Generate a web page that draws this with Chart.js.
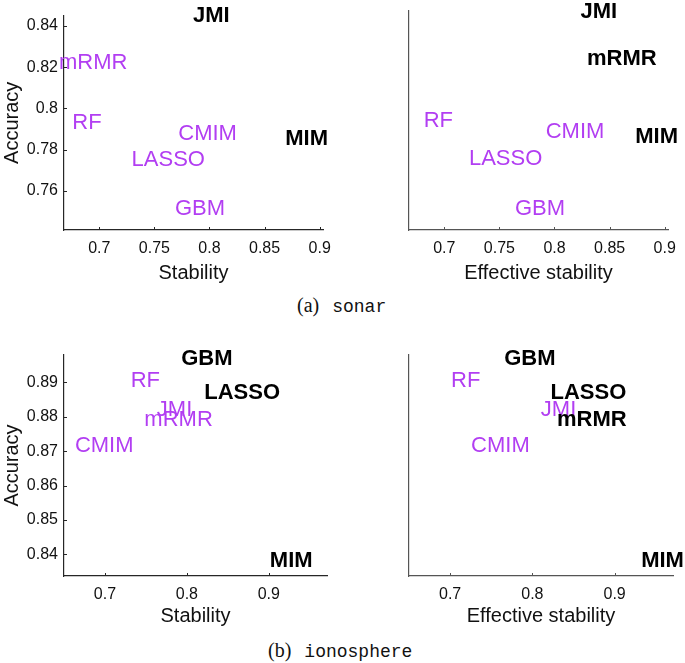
<!DOCTYPE html>
<html>
<head>
<meta charset="utf-8">
<script src="https://cdn.jsdelivr.net/npm/chart.js@4/dist/chart.umd.min.js"></script>
<style>
    body { margin: 0; background: #fff; }
    #page { position: relative; width: 685px; height: 663px; overflow: hidden; }
    .panel { position: absolute; }
    .caption { position: absolute; color: #111; white-space: nowrap; line-height: 22px; }
    .lbl { font-family: "Liberation Serif", "DejaVu Serif", serif; font-size: 20px; }
    .ds { font-family: "Liberation Mono", "DejaVu Sans Mono", monospace; font-size: 18px; margin-left: 13px; }
</style>
</head>
<body>
<div id="page">
    <div class="panel" style="left:0;top:0;"><canvas id="c-sonar-stab" width="340" height="290"></canvas></div>
    <div class="panel" style="left:340px;top:0;"><canvas id="c-sonar-eff" width="345" height="290"></canvas></div>
    <div class="panel" style="left:0;top:330px;"><canvas id="c-iono-stab" width="340" height="300"></canvas></div>
    <div class="panel" style="left:340px;top:330px;"><canvas id="c-iono-eff" width="345" height="300"></canvas></div>
    <div class="caption" style="left:297px;top:294px;"><span class="lbl">(a)</span><span class="ds">sonar</span></div>
    <div class="caption" style="left:268px;top:639px;"><span class="lbl">(b)</span><span class="ds">ionosphere</span></div>
</div>

<script>
// ==========================================
// 1. DATOS
// ==========================================

// sonar
const sonarMethods = ['JMI', 'mRMR', 'RF', 'CMIM', 'MIM', 'LASSO', 'GBM'];
const sonarAccuracy = [0.8456, 0.8229, 0.7937, 0.7884, 0.7861, 0.7757, 0.7519];
const sonarStability = [0.785, 0.6635, 0.6755, 0.7717, 0.8687, 0.7293, 0.7687];
const sonarEffStability = [0.8236, 0.8295, 0.6813, 0.792, 0.8733, 0.7224, 0.7641];
const sonarTopStab = ['JMI', 'MIM'];
const sonarTopEff = ['JMI', 'mRMR', 'MIM'];
const sonarXTicks = [0.7, 0.75, 0.8, 0.85, 0.9];
const sonarYTicks = [0.76, 0.78, 0.8, 0.82, 0.84];
const sonarXRange = [0.668, 0.903];
const sonarYRange = [0.741, 0.845];

// ionosphere
const ionoMethods = ['GBM', 'RF', 'LASSO', 'JMI', 'mRMR', 'CMIM', 'MIM'];
const ionoAccuracy = [0.8973, 0.8909, 0.8875, 0.8826, 0.8795, 0.872, 0.8385];
const ionoStability = [0.793, 0.7314, 0.8212, 0.7633, 0.7481, 0.6633, 0.9012];
const ionoEffStability = [0.7658, 0.7012, 0.822, 0.8103, 0.830, 0.7255, 0.9323];
const ionoTopStab = ['GBM', 'LASSO', 'MIM'];
const ionoTopEff = ['GBM', 'LASSO', 'mRMR', 'MIM'];
const ionoXTicks = [0.7, 0.8, 0.9];
const ionoYTicks = [0.84, 0.85, 0.86, 0.87, 0.88, 0.89];
const ionoXRange = [0.65, 0.971];
const ionoYRange = [0.8337, 0.898];

// ==========================================
// 2. ESTILOS
// ==========================================

const FONT = '"Liberation Sans", Arial, Helvetica, sans-serif';
const PURPLE = '#b23ef2';
const INK = '#000000';

// dibuja el nombre de cada método en su punto (alineado a la izquierda, centrado en vertical)
const textLabelsPlugin = {
    id: 'textLabels',
    afterDatasetsDraw(chart) {
        const ctx = chart.ctx;
        const ds = chart.data.datasets[0];
        const meta = chart.getDatasetMeta(0);
        const size = 22;
        ctx.save();
        meta.data.forEach((pt, i) => {
            const name = ds.names[i];
            const bold = ds.top.includes(name);
            ctx.font = (bold ? 'bold ' : '') + size + 'px ' + FONT;
            ctx.fillStyle = bold ? INK : PURPLE;
            ctx.textAlign = 'left';
            ctx.textBaseline = 'alphabetic';
            ctx.fillText(name, pt.x, pt.y + size * 0.358);
        });
        ctx.restore();
    }
};

// marcas de los ticks hacia dentro (estilo MATLAB)
const inwardTicksPlugin = {
    id: 'inwardTicks',
    afterDraw(chart, args, opts) {
        const ctx = chart.ctx;
        const area = chart.chartArea;
        const xs = chart.scales.x, ys = chart.scales.y;
        ctx.save();
        ctx.strokeStyle = opts.color || '#262626';
        ctx.lineWidth = 1;
        ctx.beginPath();
        xs.ticks.forEach(t => {
            const px = Math.round(xs.getPixelForValue(t.value)) + 0.5;
            ctx.moveTo(px, area.bottom);
            ctx.lineTo(px, area.bottom - 3);
        });
        if (opts.yTicks) {
            ys.ticks.forEach(t => {
                const py = Math.round(ys.getPixelForValue(t.value)) + 0.5;
                ctx.moveTo(area.left, py);
                ctx.lineTo(area.left + 3, py);
            });
        }
        ctx.stroke();
        ctx.restore();
    }
};

// ==========================================
// 3. GRÁFICOS
// ==========================================

function renderPanel(canvasId, p) {
    const ctx = document.getElementById(canvasId);
    return new Chart(ctx, {
        type: 'scatter',
        data: {
            datasets: [{
                data: p.x.map((v, i) => ({ x: v, y: p.y[i] })),
                names: p.names,
                top: p.top,
                pointRadius: 0,
                pointHoverRadius: 0
            }]
        },
        options: {
            responsive: false,
            animation: false,
            events: [],
            layout: { padding: { top: p.pad.top, right: p.pad.right, left: 0, bottom: 0 } },
            plugins: {
                legend: { display: false },
                tooltip: { enabled: false },
                inwardTicks: { color: p.axisColor, yTicks: p.showY }
            },
            scales: {
                x: {
                    type: 'linear',
                    min: p.xRange[0],
                    max: p.xRange[1],
                    afterBuildTicks: s => { s.ticks = p.xTicks.map(v => ({ value: v })); },
                    afterFit: s => { s.height = p.xHeight; },
                    grid: { display: true, drawOnChartArea: false, drawTicks: false },
                    border: { display: true, color: p.axisColor, width: 1.2 },
                    ticks: {
                        padding: 9,
                        color: '#111',
                        font: { family: FONT, size: 16 },
                        callback: v => String(+v.toFixed(2))
                    },
                    title: {
                        display: true,
                        text: p.xTitle,
                        color: '#111',
                        font: { family: FONT, size: 20 },
                        padding: { top: 0, bottom: p.xTitlePad }
                    }
                },
                y: {
                    type: 'linear',
                    min: p.yRange[0],
                    max: p.yRange[1],
                    afterBuildTicks: s => { s.ticks = p.yTicks.map(v => ({ value: v })); },
                    afterFit: s => { s.width = p.yWidth; },
                    grid: { display: true, drawOnChartArea: false, drawTicks: false },
                    border: { display: true, color: p.axisColor, width: 1.2 },
                    ticks: {
                        display: p.showY,
                        padding: 6,
                        color: '#111',
                        font: { family: FONT, size: 16 },
                        callback: v => String(+v.toFixed(2))
                    },
                    title: {
                        display: p.showY,
                        text: 'Accuracy',
                        color: '#111',
                        font: { family: FONT, size: 20 },
                        padding: { top: 0, bottom: 0 }
                    }
                }
            }
        },
        plugins: [textLabelsPlugin, inwardTicksPlugin]
    });
}

document.addEventListener('DOMContentLoaded', function() {
    renderPanel('c-sonar-stab', {
        names: sonarMethods, x: sonarStability, y: sonarAccuracy, top: sonarTopStab,
        xTicks: sonarXTicks, yTicks: sonarYTicks, xRange: sonarXRange, yRange: sonarYRange,
        xTitle: 'Stability', showY: true, axisColor: '#262626',
        pad: { top: 11, right: 14 }, yWidth: 64, xHeight: 60, xTitlePad: 5
    });
    renderPanel('c-sonar-eff', {
        names: sonarMethods, x: sonarEffStability, y: sonarAccuracy, top: sonarTopEff,
        xTicks: sonarXTicks, yTicks: sonarYTicks, xRange: sonarXRange, yRange: sonarYRange,
        xTitle: 'Effective stability', showY: false, axisColor: '#555555',
        pad: { top: 11, right: 12 }, yWidth: 69, xHeight: 60, xTitlePad: 5
    });
    renderPanel('c-iono-stab', {
        names: ionoMethods, x: ionoStability, y: ionoAccuracy, top: ionoTopStab,
        xTicks: ionoXTicks, yTicks: ionoYTicks, xRange: ionoXRange, yRange: ionoYRange,
        xTitle: 'Stability', showY: true, axisColor: '#262626',
        pad: { top: 25, right: 13 }, yWidth: 64, xHeight: 54, xTitlePad: 2
    });
    renderPanel('c-iono-eff', {
        names: ionoMethods, x: ionoEffStability, y: ionoAccuracy, top: ionoTopEff,
        xTicks: ionoXTicks, yTicks: ionoYTicks, xRange: ionoXRange, yRange: ionoYRange,
        xTitle: 'Effective stability', showY: false, axisColor: '#555555',
        pad: { top: 25, right: 12 }, yWidth: 69, xHeight: 54, xTitlePad: 2
    });
});
</script>
</body>
</html>
